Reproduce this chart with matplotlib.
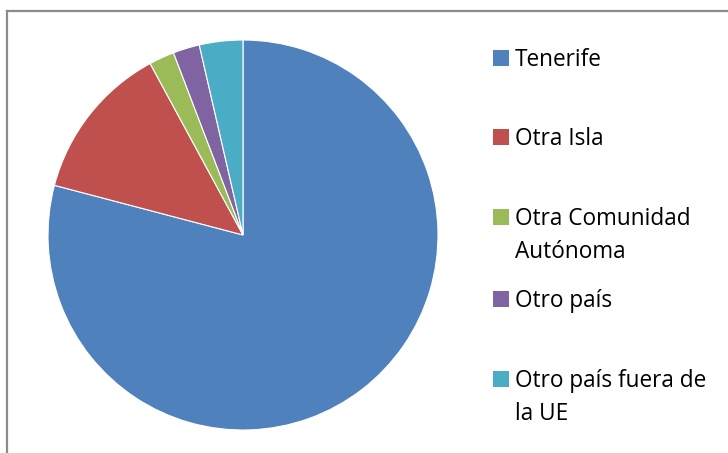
import matplotlib

matplotlib.use("Agg")
import matplotlib.pyplot as plt  # noqa: E402
from matplotlib.lines import Line2D  # noqa: E402
from matplotlib.patches import Rectangle  # noqa: E402

W, H = 728, 453

labels = ["Tenerife", "Otra Isla", "Otra Comunidad\nAutónoma", "Otro país",
          "Otro país fuera de\nla UE"]
values = [79.1, 13.0, 2.1, 2.2, 3.6]
colors = ["#4F81BD", "#C0504D", "#9BBB59", "#8064A2", "#4BACC6"]

# legend first-line baselines in pixels from top
legend_y = [66, 145, 225, 307, 387]
LINE_GAP = 33

plt.rcParams["font.family"] = ["Open Sans", "DejaVu Sans"]

fig = plt.figure(figsize=(W / 100, H / 100), dpi=100, facecolor="white")

# frame: top and left edges visible, rest runs off the image
fig.add_artist(Line2D([6.5 / W, 1.0], [1 - 10.5 / H] * 2, color="#8c8c8c", lw=1.6,
                      transform=fig.transFigure))
fig.add_artist(Line2D([6.5 / W] * 2, [0.0, 1 - 10.5 / H], color="#8c8c8c", lw=1.6,
                      transform=fig.transFigure))

cx, cy, r = 243, 235, 195
ax = fig.add_axes([(cx - r) / W, (H - cy - r) / H, 2 * r / W, 2 * r / H])
ax.pie(values, colors=colors, startangle=90, counterclock=False,
       wedgeprops=dict(edgecolor="white", linewidth=0.8))
ax.set_xlim(-1, 1); ax.set_ylim(-1, 1)
ax.set_aspect("equal")
ax.axis("off")

for lab, col, y in zip(labels, colors, legend_y):
    fig.add_artist(Rectangle((493 / W, 1 - y / H), 16 / W, 16 / H, facecolor=col,
                             edgecolor="none", transform=fig.transFigure))
    for i, line in enumerate(lab.split("\n")):
        fig.text(515 / W, 1 - (y + i * LINE_GAP) / H, line, fontsize=16.3,
                 color="#000000", va="baseline", ha="left")

fig.savefig("out.png", dpi=100, facecolor="white")
